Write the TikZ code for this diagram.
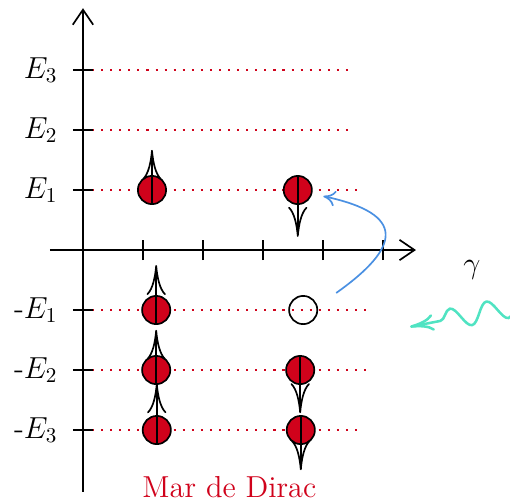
\documentclass[tikz,border=0pt]{standalone}
\usepackage{xcolor}
\usepackage{tikz}
\usetikzlibrary{positioning,arrows.meta,decorations.pathmorphing}
\definecolor{dirac}{HTML}{D0021B}
\definecolor{salto}{HTML}{4A90E2}
\definecolor{foton}{HTML}{50E3C2}

\begin{document}
\begin{tikzpicture}[
  every node/.style={font=\Large},
  axis/.style={thick, -{Straight Barb[length=2.5mm,width=3.4mm]}},
  level/.style={dirac, line width=1pt, dash pattern=on 1pt off 3.3pt},
  tickmark/.style={thick},
  electron/.style={circle, draw, thick, fill=dirac, minimum size=0.47cm, inner sep=0pt},
  hole/.style={circle, draw, thick, minimum size=0.47cm, inner sep=0pt},
  spin/.style={thick, -{To[length=5mm,width=3.2mm]}},
  jump/.style={salto, thick, -{To[length=2mm,width=2.6mm]}},
  photon/.style={foton, line width=1.2pt, -{To[length=4mm,width=2.8mm]},
                 decorate, decoration={snake, segment length=0.62cm,
                 amplitude=0.17cm, post length=0.3cm}},
]
  \useasboundingbox (-1.383,-4.2) rectangle (7.117,4.167);

  % Energy levels (dotted)
  \foreach \y/\len in {3/4.45, 2/4.45, 1/4.6, -1/4.8, -2/4.8, -3/4.65} {
    \draw[level] (0,\y) -- (\len,\y);
    \draw[tickmark] (-0.17,\y) -- (0.17,\y);
  }

  % Axes
  \coordinate (xs) at (-0.55,0);
  \coordinate (xe) at (5.55,0);
  \coordinate (ys) at (0,-4.03);
  \coordinate (ye) at (0,4.03);
  \draw[axis] (xs) -- (xe);
  \draw[axis] (ys) -- (ye);
  \foreach \x in {1,...,5}
    \draw[tickmark] (\x,-0.17) -- (\x,0.17);

  % Level labels
  \node[anchor=east] (lE3) at (-0.3,3) {$E_3$};
  \node[anchor=east] (lE2) at (-0.3,2) {$E_2$};
  \node[anchor=east] (lE1) at (-0.3,1) {$E_1$};
  \node[anchor=east] (lm1) at (-0.3,-1) {-$E_1$};
  \node[anchor=east] (lm2) at (-0.3,-2) {-$E_2$};
  \node[anchor=east] (lm3) at (-0.3,-3) {-$E_3$};

  % Electrons and hole
  \node[electron] (e1) at (1.15,1) {};
  \node[electron] (e2) at (3.58,1) {};
  \node[electron] (d1) at (1.22,-1) {};
  \node[electron] (d2) at (1.22,-2) {};
  \node[electron] (d3) at (1.23,-3) {};
  \node[electron] (d4) at (3.62,-2) {};
  \node[electron] (d5) at (3.63,-3) {};
  \node[hole]     (h1) at (3.67,-1) {};

  % Spins
  \coordinate (s1) at (1.15,1.67);
  \coordinate (s2) at (3.58,0.22);
  \coordinate (s3) at (1.22,-0.25);
  \coordinate (s4) at (1.22,-1.33);
  \coordinate (s5) at (1.23,-2.22);
  \coordinate (s6) at (3.62,-2.72);
  \coordinate (s7) at (3.63,-3.67);
  \draw[spin] (e1.south) -- (s1);
  \draw[spin] (e2.north) -- (s2);
  \draw[spin] (d1.south) -- (s3);
  \draw[spin] (d2.south) -- (s4);
  \draw[spin] (d3.south) -- (s5);
  \draw[spin] (d4.north) -- (s6);
  \draw[spin] (d5.north) -- (s7);

  % Pair creation
  \draw[jump, shorten <=0.38cm, shorten >=0.19cm]
    (h1.15) .. controls (5.3,0.05) and (5.4,0.6) .. (e2.-15);

  % Incoming photon
  \coordinate (gsrc) at (7.25,-0.93);
  \coordinate (gdst) at (5.45,-1.28);
  \draw[photon] (gsrc) -- (gdst);
  \node (gamma) at (6.48,-0.33) {$\gamma$};

  \node[text=dirac] (mar) at (2.44,-3.95) {Mar de Dirac};
\end{tikzpicture}
\end{document}
